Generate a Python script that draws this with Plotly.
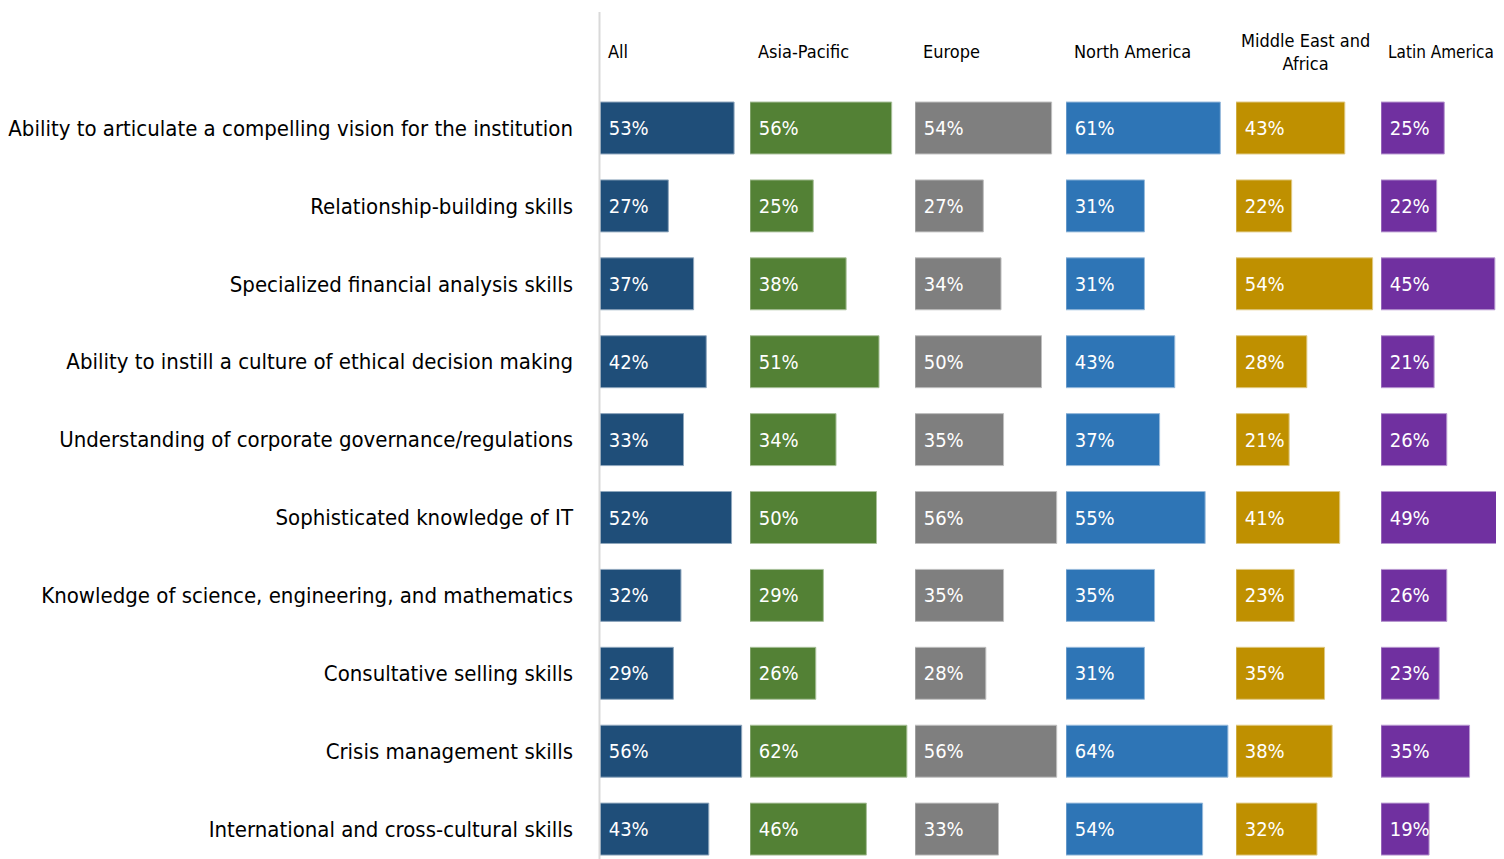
import plotly.graph_objects as go
from plotly.subplots import make_subplots

categories = [
    "Ability to articulate a compelling vision for the institution",
    "Relationship-building skills",
    "Specialized financial analysis skills",
    "Ability to instill a culture of ethical decision making",
    "Understanding of corporate governance/regulations",
    "Sophisticated knowledge of IT",
    "Knowledge of science, engineering, and mathematics",
    "Consultative selling skills",
    "Crisis management skills",
    "International and cross-cultural skills",
]
regions = ["All", "Asia-Pacific", "Europe", "North America", "Middle East and<br>Africa", "Latin America"]
all_vals = [53, 27, 37, 42, 33, 52, 32, 29, 56, 43]
asia_pacific = [56, 25, 38, 51, 34, 50, 29, 26, 62, 46]
europe = [54, 27, 34, 50, 35, 56, 35, 28, 56, 33]
north_america = [61, 31, 31, 43, 37, 55, 35, 31, 64, 54]
mea = [43, 22, 54, 28, 21, 41, 23, 35, 38, 32]
latin_america = [25, 22, 45, 21, 26, 49, 26, 23, 35, 19]
series = [all_vals, asia_pacific, europe, north_america, mea, latin_america]
colors = ["#1F4E79", "#538135", "#7F7F7F", "#2E75B6", "#BF9000", "#7030A0"]
edge_colors = ["#8FA7BD", "#A9C09A", "#BFBFBF", "#97BADB", "#DFC880", "#B898D0"]

OFF = 8  # page body margin
W, H = 1504 - OFF, 859 - OFF
panel_px = [p - OFF for p in [600, 750, 915, 1066, 1236, 1381]] + [W]
px_per_unit = 2.53
row0 = 128 - OFF
row_step = 77.9
FAM = "DejaVu Sans Condensed, Liberation Sans Narrow, DejaVu Sans, sans-serif"


def fnt(size, color="#000000"):
    return dict(size=size, family=FAM, color=color)


fig = make_subplots(rows=1, cols=6, shared_yaxes=True, horizontal_spacing=0)
ypos = list(range(len(categories)))
for i, vals in enumerate(series):
    fig.add_trace(go.Bar(
        x=vals, y=ypos, orientation="h",
        marker=dict(color=colors[i], line=dict(color=edge_colors[i], width=1)),
        width=0.667,
        text=[f"\u00a0{v}%" for v in vals],
        textposition="inside", insidetextanchor="start", constraintext="none",
        textangle=0, cliponaxis=True,
        textfont=fnt(20, "white"),
        showlegend=False, hoverinfo="skip",
    ), row=1, col=i + 1)
    x0, x1 = panel_px[i], panel_px[i + 1]
    axname = "xaxis" if i == 0 else f"xaxis{i+1}"
    fig.layout[axname].update(
        domain=[x0 / W, x1 / W], range=[0, (x1 - x0) / px_per_unit],
        visible=False, fixedrange=True,
    )

top_i = -row0 / row_step
bot_i = (H - row0) / row_step
fig.update_yaxes(range=[bot_i, top_i], showgrid=False, zeroline=False, showline=False,
                 automargin=False)
fig.layout.yaxis.update(
    tickmode="array", tickvals=ypos, ticktext=categories,
    tickfont=fnt(22),
    ticks="", ticklabelstandoff=26,
)

for i, name in enumerate(regions):
    xref = "x domain" if i == 0 else f"x{i+1} domain"
    size = 17 if i == len(regions) - 1 else 18
    if "<br>" in name:
        fig.add_annotation(x=0, xref=xref, xanchor="left", xshift=3,
                           text=name, showarrow=False, align="center",
                           font=fnt(size))
    else:
        fig.add_annotation(x=0, xref=xref, xanchor="left",
                           xshift=5 if i == len(regions) - 1 else 6,
                           text=name, showarrow=False, align="left",
                           font=fnt(size))
for a in fig.layout.annotations:
    a.y = 1 - (52 - OFF) / H
    a.yref = "paper"
    a.yanchor = "middle"

fig.add_shape(type="line", xref="paper", yref="paper",
              x0=(599.5 - OFF) / W, x1=(599.5 - OFF) / W, y0=0, y1=1 - (12 - OFF) / H,
              line=dict(color="#D9D9D9", width=2))

fig.update_layout(
    width=W, height=H, margin=dict(l=0, r=0, t=0, b=0),
    plot_bgcolor="white", paper_bgcolor="white",
    font=dict(family=FAM),
)
fig.write_html("out.html")
